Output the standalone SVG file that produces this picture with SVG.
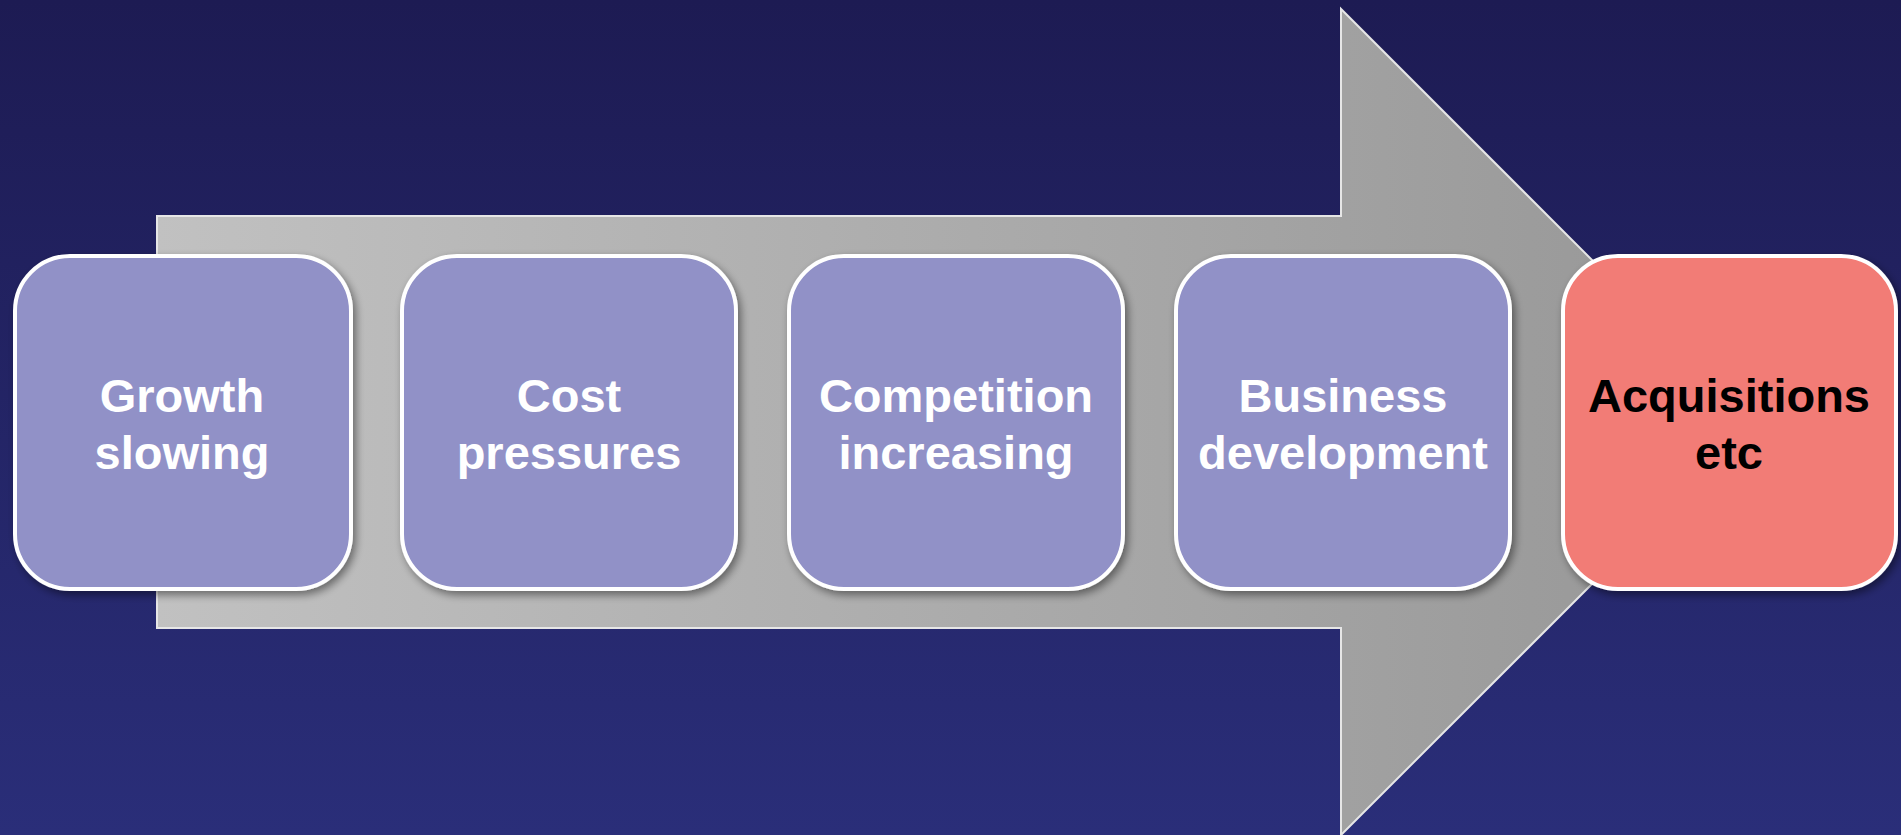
<svg xmlns="http://www.w3.org/2000/svg" width="1901" height="835" viewBox="0 0 1901 835">
<defs>
<linearGradient id="bg" x1="0" y1="0" x2="0" y2="1">
<stop offset="0" stop-color="#1d1b53"/>
<stop offset="1" stop-color="#2a2e79"/>
</linearGradient>
<linearGradient id="arrowFill" x1="157" y1="0" x2="1754" y2="0" gradientUnits="userSpaceOnUse">
<stop offset="0" stop-color="#c1c1c1"/>
<stop offset="1" stop-color="#969696"/>
</linearGradient>
<filter id="shadow" x="-10%" y="-10%" width="125%" height="125%">
<feGaussianBlur in="SourceAlpha" stdDeviation="4"/>
<feOffset dx="3" dy="4" result="b"/>
<feComponentTransfer><feFuncA type="linear" slope="0.45"/></feComponentTransfer>
<feMerge><feMergeNode/><feMergeNode in="SourceGraphic"/></feMerge>
</filter>
<style>
.box{stroke:#ffffff;stroke-width:4;filter:url(#shadow)}
.blue{fill:#9191c7}
.red{fill:#f27b76}
.lbl{font-family:"Liberation Sans",Arial,sans-serif;font-weight:bold;font-size:47px;text-anchor:middle}
.w{fill:#ffffff}
.k{fill:#000000}
</style>
</defs>
<rect x="0" y="0" width="1901" height="835" fill="url(#bg)"/>
<g id="connectors">
<polygon points="157,216 1341,216 1341,9 1754,422 1341,835 1341,628 157,628" fill="url(#arrowFill)" stroke="#e6e6e6" stroke-width="2"/>
</g>
<g id="node1">
<rect class="box blue" x="15" y="256" width="336" height="333" rx="55"/>
<text class="lbl w" x="182" y="412">Growth</text>
<text class="lbl w" x="182" y="469">slowing</text>
</g>
<g id="node2">
<rect class="box blue" x="402" y="256" width="334" height="333" rx="55"/>
<text class="lbl w" x="569" y="412">Cost</text>
<text class="lbl w" x="569" y="469">pressures</text>
</g>
<g id="node3">
<rect class="box blue" x="789" y="256" width="334" height="333" rx="55"/>
<text class="lbl w" x="956" y="412">Competition</text>
<text class="lbl w" x="956" y="469">increasing</text>
</g>
<g id="node4">
<rect class="box blue" x="1176" y="256" width="334" height="333" rx="55"/>
<text class="lbl w" x="1343" y="412">Business</text>
<text class="lbl w" x="1343" y="469">development</text>
</g>
<g id="node5">
<rect class="box red" x="1563" y="256" width="333" height="333" rx="55"/>
<text class="lbl k" x="1729" y="412">Acquisitions</text>
<text class="lbl k" x="1729" y="469">etc</text>
</g>
</svg>
